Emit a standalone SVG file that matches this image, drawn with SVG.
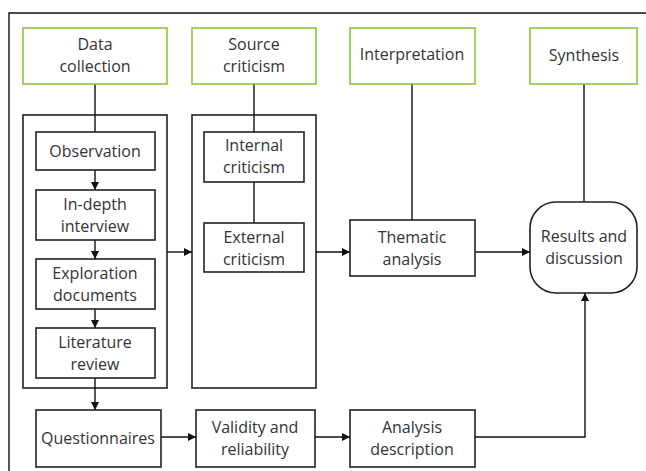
<svg xmlns="http://www.w3.org/2000/svg" width="646" height="471" viewBox="0 0 646 471">
<defs>
<style>
.g{fill:#fff;stroke:#8cc63f;stroke-width:1.6}
.b{fill:#fff;stroke:#222;stroke-width:1.6}
.c{fill:none;stroke:#111;stroke-width:1.4}
text{font-family:"Open Sans","Liberation Sans",sans-serif;font-size:16px;fill:#333;text-anchor:middle}
</style>
<marker id="ah" viewBox="0 0 10 10" refX="10" refY="5" markerWidth="8" markerHeight="8" markerUnits="userSpaceOnUse" orient="auto">
<path d="M0,0 L10,5 L0,10 z" fill="#111"/>
</marker>
</defs>
<rect width="646" height="471" fill="#fff"/>
<path d="M9,471 V13 H646" fill="none" stroke="#111" stroke-width="1.4"/>

<g id="containers">
<rect id="left-container" class="b" x="23" y="115" width="144" height="273"/>
<rect id="right-container" class="b" x="192" y="115" width="124" height="273"/>
</g>

<g id="connectors">
<line class="c" x1="95" y1="84" x2="95" y2="132"/>
<line class="c" x1="95" y1="170" x2="95" y2="190" marker-end="url(#ah)"/>
<line class="c" x1="95" y1="240" x2="95" y2="259" marker-end="url(#ah)"/>
<line class="c" x1="95" y1="309" x2="95" y2="328" marker-end="url(#ah)"/>
<line class="c" x1="95" y1="378" x2="95" y2="410" marker-end="url(#ah)"/>
<line class="c" x1="167" y1="252" x2="192" y2="252" marker-end="url(#ah)"/>
<line class="c" x1="316" y1="252" x2="350" y2="252" marker-end="url(#ah)"/>
<line class="c" x1="475" y1="252" x2="530" y2="252" marker-end="url(#ah)"/>
<line class="c" x1="254" y1="84" x2="254" y2="132"/>
<line class="c" x1="254" y1="182" x2="254" y2="223"/>
<line class="c" x1="412" y1="84" x2="412" y2="220"/>
<line class="c" x1="584" y1="84" x2="584" y2="202"/>
<line class="c" x1="161" y1="437" x2="196" y2="437" marker-end="url(#ah)"/>
<line class="c" x1="315" y1="437" x2="350" y2="437" marker-end="url(#ah)"/>
<path class="c" d="M475,437 H585 V293" marker-end="url(#ah)"/>
</g>

<g id="data-collection"><rect class="g" x="23" y="28" width="144" height="56"/><text x="95" y="50">Data</text><text x="95" y="72">collection</text></g>
<g id="source-criticism"><rect class="g" x="192" y="28" width="124" height="56"/><text x="254" y="50">Source</text><text x="254" y="72">criticism</text></g>
<g id="interpretation"><rect class="g" x="350" y="28" width="125" height="56"/><text x="412" y="60">Interpretation</text></g>
<g id="synthesis"><rect class="g" x="530" y="28" width="107" height="56"/><text x="584" y="61">Synthesis</text></g>

<g id="observation"><rect class="b" x="36" y="132" width="119" height="38"/><text x="95" y="157">Observation</text></g>
<g id="in-depth-interview"><rect class="b" x="36" y="190" width="119" height="50"/><text x="95" y="210">In-depth</text><text x="95" y="232">interview</text></g>
<g id="exploration-documents"><rect class="b" x="36" y="259" width="119" height="50"/><text x="95" y="279">Exploration</text><text x="95" y="301">documents</text></g>
<g id="literature-review"><rect class="b" x="36" y="328" width="119" height="50"/><text x="95" y="348">Literature</text><text x="95" y="370">review</text></g>

<g id="internal-criticism"><rect class="b" x="204" y="132" width="100" height="50"/><text x="254" y="151">Internal</text><text x="254" y="173">criticism</text></g>
<g id="external-criticism"><rect class="b" x="204" y="223" width="100" height="49"/><text x="254" y="243">External</text><text x="254" y="265">criticism</text></g>

<g id="thematic-analysis"><rect class="b" x="350" y="220" width="125" height="56"/><text x="412" y="243">Thematic</text><text x="412" y="265">analysis</text></g>
<g id="results-and-discussion"><rect class="b" x="530" y="202" width="107" height="91" rx="26" ry="26"/><text x="584" y="242">Results and</text><text x="584" y="264">discussion</text></g>

<g id="questionnaires"><rect class="b" x="36" y="410" width="125" height="57"/><text x="98" y="444">Questionnaires</text></g>
<g id="validity-and-reliability"><rect class="b" x="196" y="410" width="119" height="57"/><text x="255" y="433">Validity and</text><text x="255" y="455">reliability</text></g>
<g id="analysis-description"><rect class="b" x="350" y="410" width="125" height="57"/><text x="412" y="433">Analysis</text><text x="412" y="455">description</text></g>
</svg>
